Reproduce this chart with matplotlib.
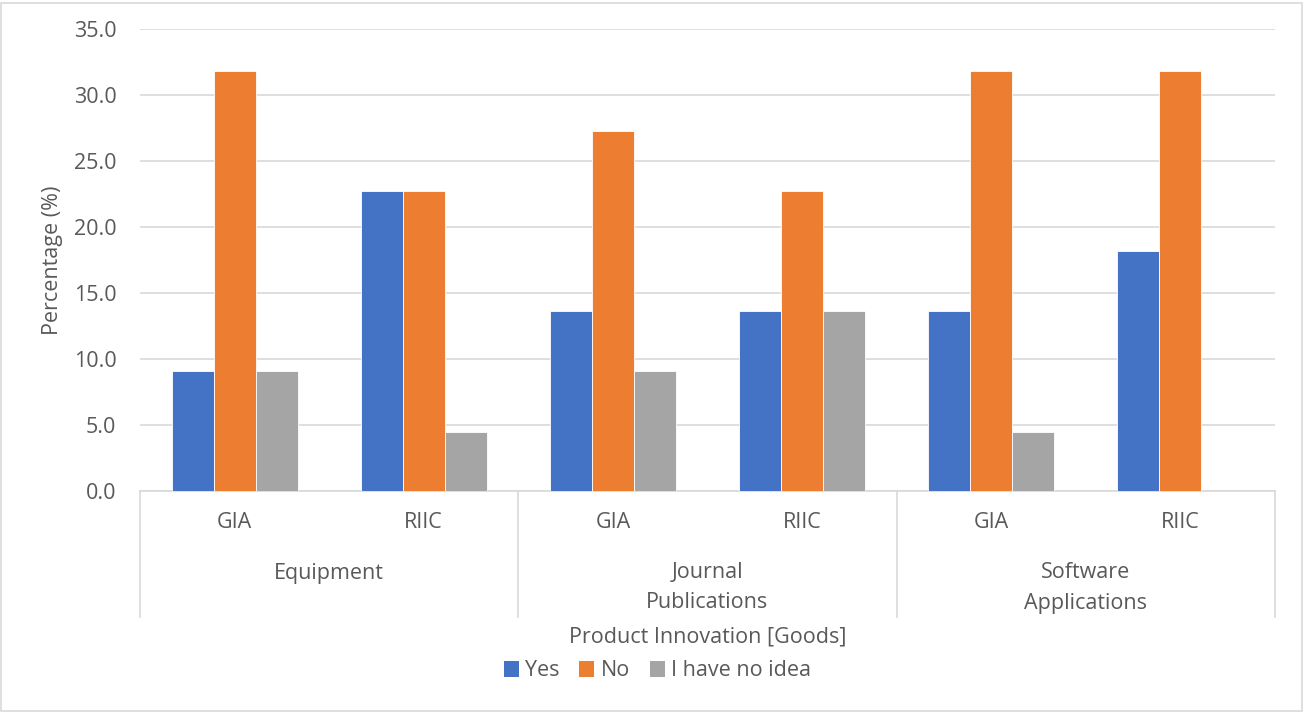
import matplotlib
matplotlib.use("Agg")
import matplotlib.pyplot as plt
import matplotlib.transforms as mtransforms
from matplotlib.patches import Rectangle, Patch
import numpy as np

plt.rcParams['font.family'] = ['Open Sans', 'DejaVu Sans']

groups = [["Equipment"], ["Journal", "Publications"], ["Software", "Applications"]]
subgroups = ["GIA", "RIIC"]
series_names = ["Yes", "No", "I have no idea"]
yes = [9.1, 22.7, 13.6, 13.6, 13.6, 18.2]
no = [31.8, 22.7, 27.3, 22.7, 31.8, 31.8]
no_idea = [9.1, 4.5, 9.1, 13.6, 4.5, 0.0]
colors = ["#4472C4", "#ED7D31", "#A5A5A5"]
yticks = [0, 5, 10, 15, 20, 25, 30, 35]

text_color = "#595959"
grid_color = "#D9D9D9"
fs = 15.5

fig = plt.figure(figsize=(13.04, 7.12), dpi=100)
ax = fig.add_axes([140 / 1304, 1 - 491 / 712, (1275 - 140) / 1304, (491 - 29) / 712])

x = np.arange(len(yes))
w = 0.222
for i, (vals, c, name) in enumerate(zip([yes, no, no_idea], colors, series_names)):
    ax.bar(x + (i - 1) * w, vals, width=w, color=c, edgecolor="white",
           linewidth=0.6, label=name, zorder=3)

ax.set_xlim(-0.5, len(yes) - 0.5)
ax.set_ylim(0, 35)
ax.set_yticks(yticks)
ax.set_yticklabels([f"{v:.1f}" for v in yticks])
ax.yaxis.grid(True, color=grid_color, linewidth=1.2, zorder=0)
ax.set_axisbelow(True)
for s in ["top", "right", "left"]:
    ax.spines[s].set_visible(False)
ax.spines["bottom"].set_color(grid_color)
ax.spines["bottom"].set_linewidth(1.2)
ax.tick_params(axis="y", length=0, pad=17, labelsize=fs, labelcolor=text_color)
ax.set_xticks([])

ax.set_ylabel("Percentage (%)", fontsize=fs, color=text_color, labelpad=8)

# Two-level category axis
trans = mtransforms.blended_transform_factory(ax.transData, ax.transAxes)
px = 1 / 462
for xs in [-0.5, 1.5, 3.5, 5.5]:
    ax.plot([xs, xs], [0, -126 * px], transform=trans, color=grid_color,
            linewidth=1.2, clip_on=False)
for i in range(len(yes)):
    ax.text(i, -31 * px, subgroups[i % 2], transform=trans, ha="center",
            va="center", fontsize=fs, color=text_color)
for g, lines in enumerate(groups):
    for k, line in enumerate(lines):
        ax.text(2 * g + 0.5, (-82 - 30 * k) * px, line, transform=trans, ha="center",
                va="center", fontsize=fs, color=text_color)

ax.text(0.5, -146 * px, "Product Innovation [Goods]", transform=ax.transAxes,
        ha="center", va="center", fontsize=fs, color=text_color)

handles = [Patch(facecolor=c, edgecolor="none") for c in colors]
fig.legend(handles, series_names, loc="center", bbox_to_anchor=(657.5 / 1304, 1 - 671 / 712),
           ncol=3, frameon=False, fontsize=fs, labelcolor=text_color,
           handlelength=0.7, handleheight=0.7, handletextpad=0.3, columnspacing=0.9)

fig.patches.append(Rectangle((1 / 1304, 1 / 712), 1301 / 1304, 708 / 712,
                             transform=fig.transFigure, fill=False,
                             edgecolor="#D9D9D9", linewidth=1.2))

fig.savefig("out.png", dpi=100, facecolor="white")
